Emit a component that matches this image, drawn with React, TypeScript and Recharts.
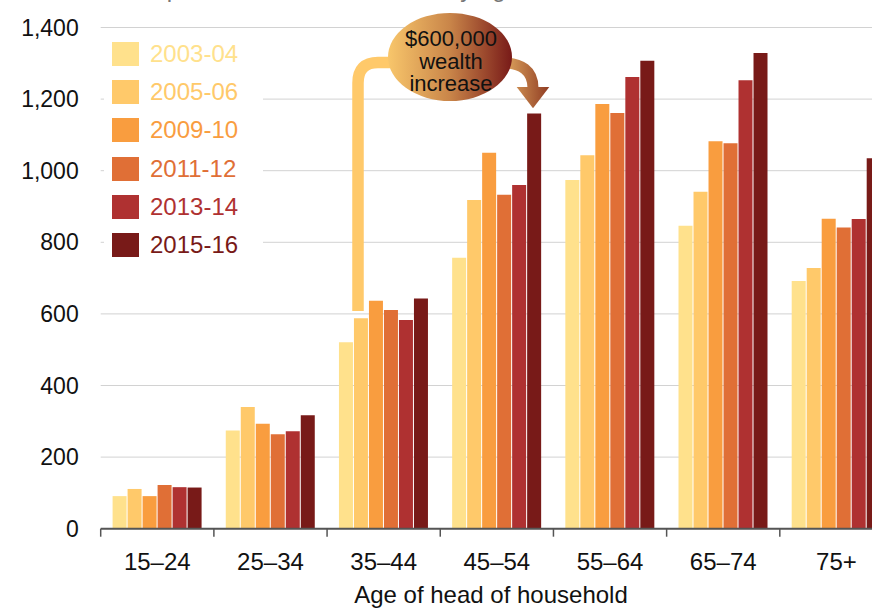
import React from "react";
import { BarChart, Bar, XAxis, YAxis, CartesianGrid } from "recharts";

const ages = ["15–24", "25–34", "35–44", "45–54", "55–64", "65–74", "75+"];
const y2003 = [91, 274, 521, 757, 974, 846, 692];
const y2005 = [111, 340, 588, 918, 1043, 941, 728];
const y2009 = [91, 293, 637, 1050, 1186, 1082, 866];
const y2011 = [122, 264, 611, 933, 1161, 1077, 841];
const y2013 = [116, 272, 583, 960, 1262, 1253, 865];
const y2015 = [115, 317, 643, 1160, 1307, 1329, 1035];
const yTicks = [0, 200, 400, 600, 800, 1000, 1200, 1400];

const series = [
  { key: "2003-04", values: y2003, color: "#FFE18C" },
  { key: "2005-06", values: y2005, color: "#FFC96A" },
  { key: "2009-10", values: y2009, color: "#F99D3F" },
  { key: "2011-12", values: y2011, color: "#E06F36" },
  { key: "2013-14", values: y2013, color: "#AF3131" },
  { key: "2015-16", values: y2015, color: "#781A18" },
];

const data = ages.map((age, i) => {
  const row: Record<string, string | number> = { age };
  series.forEach((s) => (row[s.key] = s.values[i]));
  return row;
});

const FONT = "'Liberation Sans', Arial, sans-serif";
const CHART_W = 893;
const CHART_H = 608;
const AXIS_W = 100.7;
const BAND = (CHART_W - AXIS_W) / ages.length;

function AgeTick(props: any) {
  const { x, y, payload } = props;
  const left = x - BAND / 2;
  return (
    <g>
      <line x1={left} x2={left} y1={y} y2={y + 8} stroke="#555" strokeWidth={1.5} />
      <text x={x} y={y + 41} textAnchor="middle" fontSize={24} fill="#111" fontFamily={FONT}>
        {payload.value}
      </text>
    </g>
  );
}

// legend sits on a white box that hides the gridlines behind it
function YearLegend() {
  return (
    <div
      style={{
        position: "absolute",
        left: 104,
        top: 35,
        width: 159,
        height: 232,
        background: "#fff",
      }}
    >
      {series.map((s, i) => (
        <div
          key={s.key}
          style={{
            position: "absolute",
            left: 8,
            top: 6.7 + i * 38.3,
            display: "flex",
            alignItems: "center",
            height: 24,
          }}
        >
          <div style={{ width: 27, height: 24, background: s.color }} />
          <span style={{ marginLeft: 11, color: s.color, fontSize: 24, fontFamily: FONT, lineHeight: "24px" }}>
            {s.key}
          </span>
        </div>
      ))}
    </div>
  );
}

function Annotation() {
  return (
    <svg
      width={872}
      height={608}
      style={{ position: "absolute", left: 0, top: 0, pointerEvents: "none" }}
    >
      <defs>
        <linearGradient id="ell" x1="0" x2="1" y1="0" y2="0">
          <stop offset="0%" stopColor="#F8C66B" />
          <stop offset="50%" stopColor="#C98549" />
          <stop offset="100%" stopColor="#781A18" />
        </linearGradient>
        <linearGradient id="arr" gradientUnits="userSpaceOnUse" x1={508} x2={550} y1={0} y2={0}>
          <stop offset="0%" stopColor="#D99E5A" />
          <stop offset="100%" stopColor="#8E3A22" />
        </linearGradient>
      </defs>
      <text x={24} y={-3} fontSize={24} fill="#777" fontFamily={FONT}>
        Mean wealth per household, $2015-16, by age
      </text>
      <path d="M358,311 V83 Q358,62.5 378,62.5 H405" fill="none" stroke="#FFC96A" strokeWidth={11.5} />
      <path d="M500,62.5 Q533,62.5 533,88" fill="none" stroke="url(#arr)" strokeWidth={11} />
      <polygon points="516.7,87 549.3,87 533,108.3" fill="url(#arr)" />
      <ellipse cx={450} cy={57} rx={62} ry={44} fill="url(#ell)" />
      <text textAnchor="middle" fontSize={22} fill="#111" fontFamily={FONT}>
        <tspan x={451} y={46}>$600,000</tspan>
        <tspan x={451} y={69}>wealth</tspan>
        <tspan x={451} y={91}>increase</tspan>
      </text>
      <text x={491} y={603} textAnchor="middle" fontSize={24} fill="#111" fontFamily={FONT}>
        Age of head of household
      </text>
    </svg>
  );
}

export default function App() {
  return (
    <div
      style={{
        position: "fixed",
        left: 0,
        top: 0,
        width: 872,
        height: 608,
        overflow: "hidden",
        background: "#fff",
        fontFamily: FONT,
      }}
    >
      <BarChart
        width={CHART_W}
        height={CHART_H}
        data={data}
        margin={{ top: 27.5, right: 0, left: 0, bottom: 0 }}
        barCategoryGap="10.5%"
        barGap={1}
      >
        <CartesianGrid vertical={false} stroke="#d2d2d2" strokeWidth={1} />
        <XAxis
          dataKey="age"
          height={79.3}
          tickLine={false}
          tickSize={0}
          tickMargin={0}
          axisLine={{ stroke: "#555", strokeWidth: 2 }}
          tick={<AgeTick />}
          interval={0}
        />
        <YAxis
          width={AXIS_W}
          domain={[0, 1400]}
          ticks={yTicks}
          axisLine={false}
          tickLine={false}
          tickSize={0}
          tickMargin={22}
          tick={{ fontSize: 23, fill: "#111", fontFamily: FONT }}
          tickFormatter={(v: number) => v.toLocaleString("en-US")}
        />
        {series.map((s) => (
          <Bar key={s.key} dataKey={s.key} fill={s.color} isAnimationActive={false} />
        ))}
      </BarChart>
      <YearLegend />
      <Annotation />
    </div>
  );
}
